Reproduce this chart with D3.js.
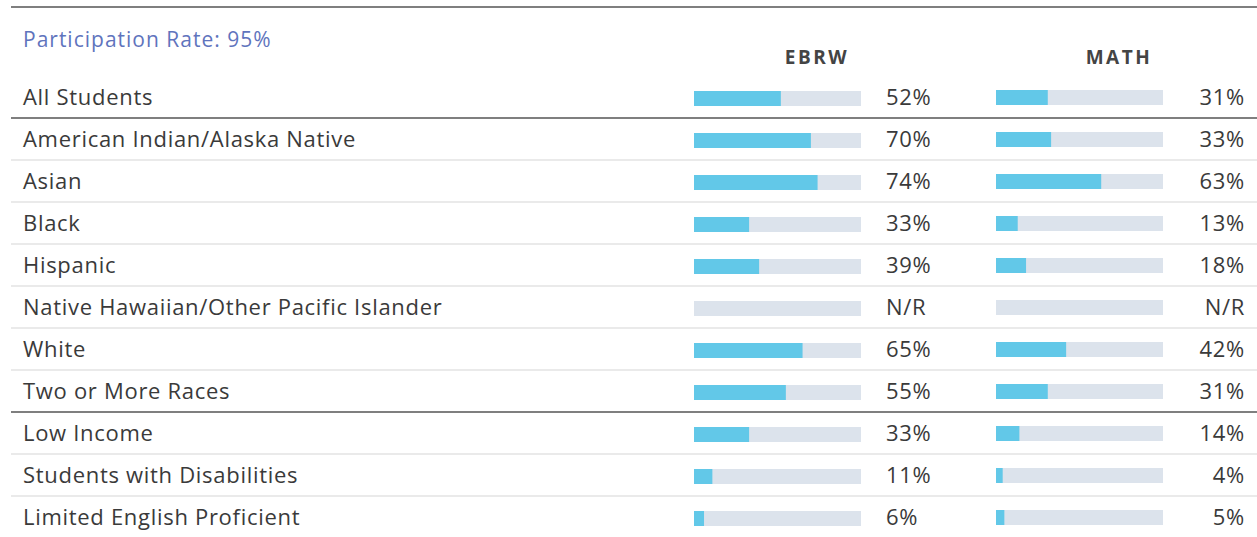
<html>
<head>
<meta charset="utf-8">
<script src="https://d3js.org/d3.v7.min.js"></script>
<style>
  body { margin: 0; background: #fff; }
  text { font-family: "Open Sans", "Liberation Sans", sans-serif; }
</style>
</head>
<body>
<div id="chart"></div>
<script>
  // data
  const groups = ["All Students", "American Indian/Alaska Native", "Asian", "Black", "Hispanic",
    "Native Hawaiian/Other Pacific Islander", "White", "Two or More Races",
    "Low Income", "Students with Disabilities", "Limited English Proficient"];
  const ebrw = [52, 70, 74, 33, 39, null, 65, 55, 33, 11, 6];
  const math = [31, 33, 63, 13, 18, null, 42, 31, 14, 4, 5];
  const subjects = ["EBRW", "MATH"];
  const participation = "Participation Rate: 95%";
  const darkAfter = [0, 7]; // heavy rule below these rows

  let width = 1257, height = 537;

  let svg = d3.select("#chart").append("svg")
    .attr("width", width)
    .attr("height", height);

  // row positions
  let y = d3.scaleBand()
    .domain(d3.range(groups.length))
    .range([76, 76 + 42 * groups.length]);

  // bar scales
  let xE = d3.scaleLinear().domain([0, 100]).range([694, 861]);
  let xM = d3.scaleLinear().domain([0, 100]).range([996, 1163]);

  // top rule
  svg.append("line")
    .attr("x1", 11).attr("x2", width)
    .attr("y1", 7).attr("y2", 7)
    .style("stroke", "#555").style("stroke-width", 1.5);

  svg.append("text")
    .attr("x", 23).attr("y", 47)
    .style("font-size", "21px")
    .style("letter-spacing", "1px")
    .style("fill", "#5f74bd")
    .text(participation);

  // column headers
  svg.selectAll(".head")
    .data(subjects)
    .enter().append("text")
      .attr("x", (d, i) => i == 0 ? 817 : 1119)
      .attr("y", 64)
      .attr("text-anchor", "middle")
      .style("font-size", "19px")
      .style("font-weight", "bold")
      .style("letter-spacing", "2.5px")
      .style("fill", "#444")
      .text(d => d);

  let rows = svg.selectAll(".row")
    .data(groups)
    .enter().append("g")
      .attr("transform", (d, i) => "translate(0," + y(i) + ")");

  // row separators
  rows.filter((d, i) => i < groups.length - 1)
    .append("line")
      .attr("x1", 11).attr("x2", width)
      .attr("y1", 42).attr("y2", 42)
      .style("stroke", (d, i) => darkAfter.includes(i) ? "#555" : "#e3e3e3")
      .style("stroke-width", 1.5);

  rows.append("text")
    .attr("x", 23).attr("y", 29)
    .style("font-size", "22px")
    .style("letter-spacing", "0.7px")
    .style("fill", "#3a3a3a")
    .text(d => d);

  // EBRW bars
  rows.append("rect")
    .attr("x", xE(0)).attr("y", 15)
    .attr("width", xE(100) - xE(0)).attr("height", 15)
    .style("fill", "#dce3ec");
  rows.append("rect")
    .attr("x", xE(0)).attr("y", 15)
    .attr("width", (d, i) => ebrw[i] == null ? 0 : xE(ebrw[i]) - xE(0))
    .attr("height", 15)
    .style("fill", "#62c8e8");
  rows.append("text")
    .attr("x", 886).attr("y", 29)
    .style("font-size", "22px")
    .style("letter-spacing", "0.7px")
    .style("fill", "#3a3a3a")
    .text((d, i) => ebrw[i] == null ? "N/R" : ebrw[i] + "%");

  // MATH bars
  rows.append("rect")
    .attr("x", xM(0)).attr("y", 14)
    .attr("width", xM(100) - xM(0)).attr("height", 15)
    .style("fill", "#dce3ec");
  rows.append("rect")
    .attr("x", xM(0)).attr("y", 14)
    .attr("width", (d, i) => math[i] == null ? 0 : xM(math[i]) - xM(0))
    .attr("height", 15)
    .style("fill", "#62c8e8");
  rows.append("text")
    .attr("x", 1245).attr("y", 29)
    .attr("text-anchor", "end")
    .style("font-size", "22px")
    .style("letter-spacing", "0.7px")
    .style("fill", "#3a3a3a")
    .text((d, i) => math[i] == null ? "N/R" : math[i] + "%");
</script>
</body>
</html>
